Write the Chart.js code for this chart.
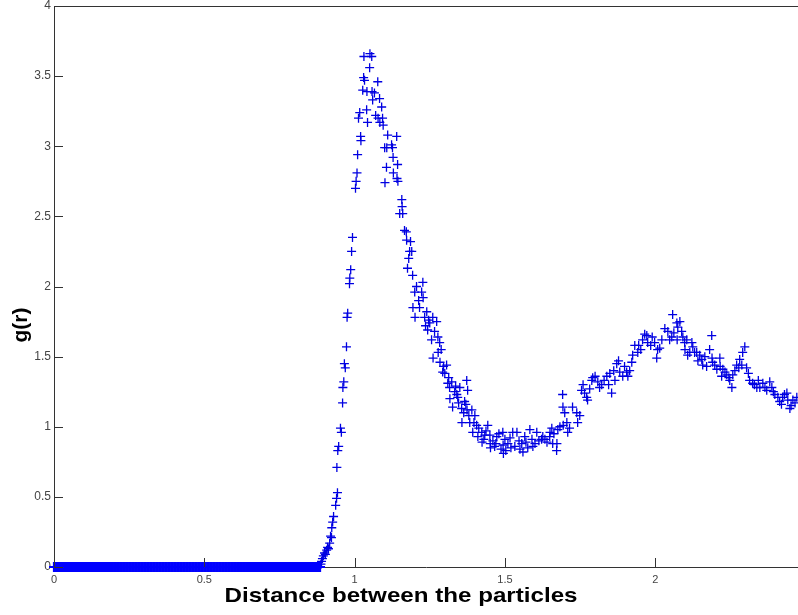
<!DOCTYPE html>
<html>
<head>
<meta charset="utf-8">
<script src="https://cdn.jsdelivr.net/npm/chart.js@4/dist/chart.umd.min.js"></script>
<style>
  html, body { margin: 0; padding: 0; background: #ffffff; }
  #wrap { width: 798px; height: 615px; }
</style>
</head>
<body>
<div id="wrap"><canvas id="c" width="798" height="615"></canvas></div>
<script>
// ---- Data ----
const xTickValues = [0, 0.5, 1, 1.5, 2];
const yTickValues = [0, 0.5, 1, 1.5, 2, 2.5, 3, 3.5, 4];
const xAxisTitle = 'Distance between the particles';
const yAxisTitle = 'g(r)';

// g(r) = 0 band below contact distance
const zeroBandR = [
  0,0.005,0.01,0.015,0.02,0.025,0.03,0.035,0.04,0.045,
  0.05,0.055,0.06,0.065,0.07,0.075,0.08,0.085,0.09,0.095,
  0.1,0.105,0.11,0.115,0.12,0.125,0.13,0.135,0.14,0.145,
  0.15,0.155,0.16,0.165,0.17,0.175,0.18,0.185,0.19,0.195,
  0.2,0.205,0.21,0.215,0.22,0.225,0.23,0.235,0.24,0.245,
  0.25,0.255,0.26,0.265,0.27,0.275,0.28,0.285,0.29,0.295,
  0.3,0.305,0.31,0.315,0.32,0.325,0.33,0.335,0.34,0.345,
  0.35,0.355,0.36,0.365,0.37,0.375,0.38,0.385,0.39,0.395,
  0.4,0.405,0.41,0.415,0.42,0.425,0.43,0.435,0.44,0.445,
  0.45,0.455,0.46,0.465,0.47,0.475,0.48,0.485,0.49,0.495,
  0.5,0.505,0.51,0.515,0.52,0.525,0.53,0.535,0.54,0.545,
  0.55,0.555,0.56,0.565,0.57,0.575,0.58,0.585,0.59,0.595,
  0.6,0.605,0.61,0.615,0.62,0.625,0.63,0.635,0.64,0.645,
  0.65,0.655,0.66,0.665,0.67,0.675,0.68,0.685,0.69,0.695,
  0.7,0.705,0.71,0.715,0.72,0.725,0.73,0.735,0.74,0.745,
  0.75,0.755,0.76,0.765,0.77,0.775,0.78,0.785,0.79,0.795,
  0.8,0.805,0.81,0.815,0.82,0.825,0.83,0.835,0.84,0.845,
  0.85,0.855,0.86,0.865,0.87,0.875,0.88,0.885
];
const zeroBandG = [
  0,0,0,0,0,0,0,0,0,0,
  0,0,0,0,0,0,0,0,0,0,
  0,0,0,0,0,0,0,0,0,0,
  0,0,0,0,0,0,0,0,0,0,
  0,0,0,0,0,0,0,0,0,0,
  0,0,0,0,0,0,0,0,0,0,
  0,0,0,0,0,0,0,0,0,0,
  0,0,0,0,0,0,0,0,0,0,
  0,0,0,0,0,0,0,0,0,0,
  0,0,0,0,0,0,0,0,0,0,
  0,0,0,0,0,0,0,0,0,0,
  0,0,0,0,0,0,0,0,0,0,
  0,0,0,0,0,0,0,0,0,0,
  0,0,0,0,0,0,0,0,0,0,
  0,0,0,0,0,0,0,0,0,0,
  0,0,0,0,0,0,0,0,0,0,
  0,0,0,0,0,0,0,0,0,0,
  0,0,0,0,0,0,0,0
];

// first and second coordination shells
const rPeak = [
  0.888,0.890,0.893,0.896,0.900,0.903,0.907,0.910,0.913,0.917,
  0.920,0.923,0.924,0.927,0.930,0.937,0.940,0.943,0.941,0.944,
  0.947,0.953,0.956,0.960,0.961,0.964,0.966,0.969,0.973,0.975,
  0.977,0.983,0.984,0.987,0.990,0.993,1.003,1.005,1.008,1.010,
  1.013,1.017,1.020,1.021,1.027,1.030,1.031,1.033,1.040,1.041,
  1.043,1.050,1.051,1.057,1.058,1.060,1.066,1.070,1.077,1.078,
  1.083,1.084,1.090,1.093,1.095,1.100,1.101,1.106,1.107,1.110,
  1.123,1.126,1.128,1.129,1.140,1.141,1.143,1.144,1.150,1.157,
  1.158,1.160,1.166,1.172,1.173,1.176,1.180,1.183,1.186,1.190,
  1.193,1.194,1.200,1.201,1.206,1.213,1.216,1.223,1.227,1.228,
  1.233,1.236,1.240,1.243,1.246,1.250,1.256,1.260,1.261,1.266,
  1.273,1.277,1.278,1.283,1.284,1.288,1.293,1.296,1.300,1.306,
  1.310,1.313,1.316,1.317,1.323,1.326,1.333,1.336,1.340,1.343,
  1.346,1.350,1.356,1.357,1.363,1.366,1.370,1.373,1.374,1.376,
  1.380,1.383,1.390,1.393,1.397,1.400,1.406,1.410,1.413,1.423,
  1.424,1.430,1.433,1.437,1.443,1.450,1.451,1.452,1.460,1.466,
  1.470,1.473,1.480,1.487,1.493,1.494,1.495,1.500,1.503,1.510,
  1.517,1.520,1.526,1.533,1.540,1.547,1.550,1.556,1.560,1.566,
  1.570,1.576,1.583,1.590,1.593,1.600,1.606,1.613,1.622,1.626,
  1.633,1.640,1.649,1.650,1.656,1.659,1.663,1.672,1.673,1.676,
  1.683,1.692,1.693,1.694,1.699,1.706,1.709,1.715,1.725,1.739,
  1.742,1.749,1.755,1.760,1.765,1.772,1.775,1.782,1.789,1.792,
  1.800,1.809,1.815,1.822,1.830,1.839,1.845,1.849,1.855,1.862,
  1.866,1.872,1.878,1.882,1.892,1.898,1.905,1.909,1.915,1.922,
  1.925,1.932,1.942,1.945,1.952,1.958,1.965,1.972,1.975,1.985,
  1.990,1.998,2.005,2.008,2.015,2.022,2.032,2.042,2.048,2.055,
  2.058,2.062,2.072,2.073,2.075,2.082,2.088,2.092,2.098,2.099,
  2.105,2.108,2.115,2.122,2.125,2.131,2.138,2.142,2.148,2.155,
  2.158,2.165,2.171,2.181,2.188,2.189,2.191,2.198,2.205,2.215,
  2.216,2.221,2.225,2.232,2.238,2.245,2.248,2.255,2.258,2.265,
  2.271,2.278,2.281,2.288,2.291,2.298,2.304,2.310,2.314,2.324,
  2.330,2.338,2.343,2.348,2.358,2.365,2.371,2.381,2.388,2.393,
  2.398,2.408,2.414,2.420,2.424,2.430,2.438,2.441,2.448,2.452,
  2.458,2.465,2.471
];
const gPeak = [
  0.02,0.04,0.06,0.08,0.10,0.09,0.12,0.14,0.13,0.17,
  0.22,0.21,0.28,0.32,0.36,0.44,0.49,0.53,0.71,0.83,
  0.86,0.99,0.96,1.17,1.28,1.32,1.45,1.42,1.57,1.78,
  1.81,2.02,2.06,2.12,2.25,2.35,2.70,2.75,2.81,2.94,
  3.20,3.24,3.07,3.04,3.40,3.49,3.64,3.47,3.26,3.39,
  3.17,3.56,3.66,3.64,3.39,3.33,3.38,3.22,3.46,3.20,
  3.34,3.17,3.28,3.20,3.15,2.99,2.74,2.85,2.99,3.08,
  3.01,2.99,2.92,2.81,3.07,2.77,2.87,2.75,2.52,2.62,
  2.57,2.52,2.40,2.39,2.33,2.13,2.20,2.25,2.32,2.25,
  2.08,1.85,1.96,1.78,2.00,1.90,1.85,1.96,2.03,1.92,
  1.78,1.72,1.82,1.69,1.76,1.74,1.62,1.78,1.49,1.68,
  1.75,1.64,1.53,1.60,1.46,1.55,1.39,1.43,1.38,1.44,
  1.31,1.35,1.28,1.20,1.32,1.14,1.25,1.29,1.23,1.21,
  1.17,1.28,1.13,1.03,1.10,1.18,1.16,1.33,1.12,1.26,
  1.08,1.03,1.12,0.96,1.03,1.08,1.01,0.93,0.99,0.96,
  0.89,0.91,0.94,0.97,1.01,0.94,0.88,0.85,0.90,0.86,
  0.88,0.93,0.95,0.84,0.96,0.87,0.81,0.91,0.83,0.88,
  0.92,0.85,0.96,0.86,0.96,0.90,0.84,0.88,0.82,0.93,
  0.89,0.85,0.98,0.91,0.86,0.88,0.96,0.90,0.91,0.93,
  0.91,0.89,0.93,0.96,0.99,0.88,0.95,0.83,0.88,0.98,
  1.00,1.23,1.14,1.01,1.10,1.03,0.96,0.99,1.14,1.10,
  1.03,1.08,1.26,1.30,1.24,1.21,1.19,1.27,1.33,1.35,
  1.36,1.32,1.28,1.30,1.33,1.36,1.30,1.38,1.24,1.40,
  1.33,1.45,1.47,1.39,1.36,1.43,1.39,1.36,1.40,1.46,
  1.51,1.58,1.53,1.58,1.55,1.62,1.66,1.65,1.60,1.58,
  1.64,1.60,1.49,1.55,1.56,1.62,1.70,1.68,1.62,1.64,
  1.80,1.67,1.74,1.62,1.71,1.75,1.68,1.64,1.60,1.55,
  1.62,1.51,1.53,1.60,1.57,1.53,1.53,1.47,1.51,1.48,
  1.44,1.50,1.43,1.55,1.65,1.49,1.46,1.44,1.41,1.49,
  1.43,1.36,1.41,1.39,1.37,1.35,1.33,1.28,1.37,1.40,
  1.44,1.42,1.48,1.44,1.53,1.57,1.42,1.38,1.33,1.31,
  1.30,1.28,1.33,1.28,1.31,1.28,1.26,1.32,1.28,1.25,
  1.23,1.21,1.18,1.16,1.21,1.23,1.24,1.19,1.13,1.15,
  1.19,1.17,1.21
];

// ---- Chart ----
const markerColor = 'rgb(0,0,225)';
const toPoints = (rs, gs) => rs.map((r, i) => ({ x: r, y: gs[i] }));

const framePlugin = {
  id: 'matlabFrame',
  afterDraw(chart) {
    const { ctx, chartArea: a, scales } = chart;
    ctx.save();
    ctx.strokeStyle = '#333333';
    ctx.lineWidth = 1;
    // top box line
    ctx.beginPath();
    ctx.moveTo(a.left, Math.round(a.top) + 0.5);
    ctx.lineTo(a.right, Math.round(a.top) + 0.5);
    ctx.stroke();
    // inward tick marks
    ctx.beginPath();
    scales.x.ticks.forEach(t => {
      const px = Math.round(scales.x.getPixelForValue(t.value)) + 0.5;
      ctx.moveTo(px, a.bottom);
      ctx.lineTo(px, a.bottom - 9);
    });
    scales.y.ticks.forEach(t => {
      const py = Math.round(scales.y.getPixelForValue(t.value)) + 0.5;
      ctx.moveTo(a.left, py);
      ctx.lineTo(a.left + 9, py);
    });
    ctx.stroke();
    // axis titles
    ctx.fillStyle = '#000000';
    ctx.font = 'bold 21px "Liberation Sans", Arial, sans-serif';
    ctx.textAlign = 'center';
    ctx.textBaseline = 'alphabetic';
    ctx.save();
    ctx.translate(401, 602);
    ctx.scale(1.15, 1);
    ctx.fillText(xAxisTitle, 0, 0);
    ctx.restore();
    ctx.save();
    ctx.translate(27, 325);
    ctx.rotate(-Math.PI / 2);
    ctx.fillText(yAxisTitle, 0, 0);
    ctx.restore();
    ctx.restore();
  }
};

new Chart(document.getElementById('c'), {
  type: 'scatter',
  data: {
    datasets: [
      {
        label: 'g(r) zero',
        data: toPoints(zeroBandR, zeroBandG),
        pointStyle: 'cross',
        pointRadius: 5,
        borderColor: 'rgb(0,0,255)',
        backgroundColor: 'rgb(0,0,255)',
        borderWidth: 2.2,
        clip: false
      },
      {
        label: 'g(r)',
        data: toPoints(rPeak, gPeak),
        pointStyle: 'cross',
        pointRadius: 4.5,
        borderColor: markerColor,
        backgroundColor: markerColor,
        borderWidth: 1.3,
        clip: false
      }
    ]
  },
  options: {
    responsive: false,
    devicePixelRatio: 1,
    animation: false,
    layout: { padding: 0, autoPadding: false },
    plugins: { legend: { display: false }, tooltip: { enabled: false } },
    scales: {
      x: {
        type: 'linear',
        min: 0,
        max: 2.475,
        afterBuildTicks: s => { s.ticks = xTickValues.map(v => ({ value: v })); },
        afterFit: s => { s.height = 48; s.paddingLeft = 0; s.paddingRight = 0; },
        grid: { display: false, drawTicks: false },
        border: { display: true, color: '#333333', width: 1 },
        ticks: {
          autoSkip: false, maxRotation: 0, padding: 6,
          color: '#444444',
          font: { family: '"Liberation Sans", Arial, sans-serif', size: 11 },
          callback: v => String(v)
        }
      },
      y: {
        type: 'linear',
        min: 0,
        max: 4,
        afterBuildTicks: s => { s.ticks = yTickValues.map(v => ({ value: v })); },
        afterFit: s => { s.width = 54; s.paddingTop = 6; s.paddingBottom = 0; },
        grid: { display: false, drawTicks: false },
        border: { display: true, color: '#333333', width: 1 },
        ticks: {
          autoSkip: false, padding: 3,
          color: '#444444',
          font: { family: '"Liberation Sans", Arial, sans-serif', size: 12 },
          callback: v => String(v)
        }
      }
    }
  },
  plugins: [framePlugin]
});
</script>
</body>
</html>
